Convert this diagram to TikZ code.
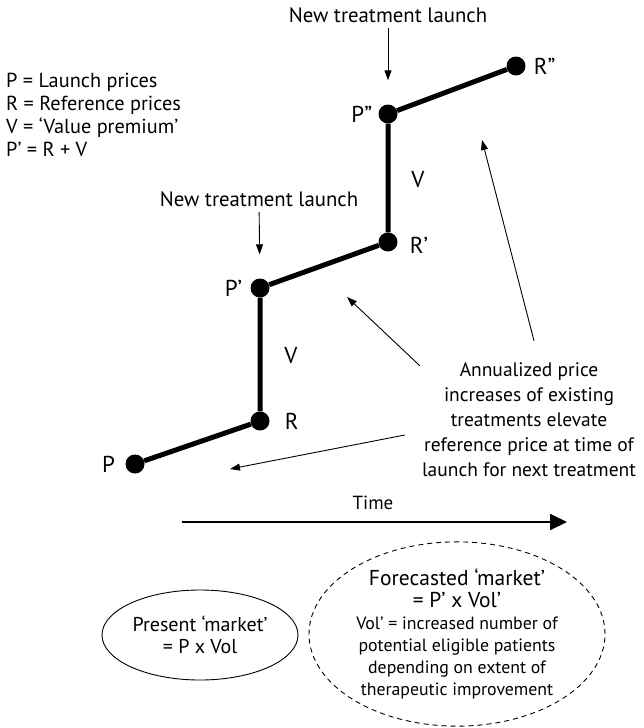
\documentclass[tikz,border=0pt]{standalone}
\usepackage{fontspec}
\setmainfont{PT Sans}
\usepackage{tikz}
\usetikzlibrary{positioning}
\usetikzlibrary{arrows.meta}
\usetikzlibrary{shapes.geometric}
\tikzstyle{line} = [draw, line width=0.9pt, -{Triangle[length=10pt,width=7pt]}]
\tikzstyle{timeline} = [draw, line width=1.8pt, -{Triangle[length=17pt,width=16pt]}]
\newcommand{\bigline}{\fontsize{21.5}{24}\selectfont}

\begin{document}
\begin{tikzpicture}[x=1pt, y=-1pt,
		every node/.style={font=\fontsize{19}{22}\selectfont},
		dot/.style={circle, fill=black, inner sep=0pt, minimum size=19pt},
		lbl/.style={font=\fontsize{23}{26}\selectfont, inner sep=0pt},
		price/.style={draw, line width=5pt},
		launch/.style={font=\fontsize{20.8}{24}\selectfont},
		market/.style={draw, ellipse, line width=0.9pt, align=center, inner sep=0pt}]
		\useasboundingbox (0,0) rectangle (643,728);
		%% Legend
		\node [align=left, anchor=north west, inner sep=0pt, font=\fontsize{20.3}{23}\selectfont] at (6,73) (legend) {P = Launch prices\\R = Reference prices\\V = ‘Value premium’\\P’ = R + V};
		%% Prices
		\node [dot] at (135,464) (pA) {};
		\node [dot] at (260,421) (rA) {};
		\node [dot] at (260,288) (pB) {};
		\node [dot] at (388,242) (rB) {};
		\node [dot] at (388,114) (pC) {};
		\node [dot] at (516,66) (rC) {};
		\node [lbl, left=10pt of pA] (pAl) {P};
		\node [lbl, right=15pt of rA] (rAl) {R};
		\node [lbl, left=8pt of pB] (pBl) {P’};
		\node [lbl, right=12pt of rB, yshift=-3pt] (rBl) {R’};
		\node [lbl, left=6pt of pC] (pCl) {P”};
		\node [lbl, right=8pt of rC] (rCl) {R”};
		\node [lbl] at (291,356) (vA) {V};
		\node [lbl] at (418,180) (vB) {V};
		\path [price] (pA) -- (rA) -- (pB) -- (rB) -- (pC) -- (rC);
		%% Launches
		\node [launch] at (259,199) (launchA) {New treatment launch};
		\node [launch] at (388,15) (launchB) {New treatment launch};
		\path [line, shorten <=2pt, shorten >=24pt] (launchA) -- (pB);
		\path [line, shorten <=2pt, shorten >=24pt] (launchB) -- (pC);
		%% Annotation
		\node [align=center, inner sep=0pt, font=\fontsize{19.5}{25}\selectfont] at (529,420) (ann) {Annualized price\\increases of existing\\treatments elevate\\reference price at time of\\launch for next treatment};
		\coordinate (tipA) at (230,469);
		\coordinate (tipB) at (347,297);
		\coordinate (tipC) at (482,140);
		\path [line] ([xshift=5pt,yshift=22pt]ann.north) -- (tipC);
		\path [line] ([xshift=-2pt,yshift=-3pt]ann.north west) -- (tipB);
		\path [line] ([xshift=-17pt,yshift=-15pt]ann.west) -- (tipA);
		%% Time
		\node at (373,503) (time) {Time};
		\coordinate (t0) at (182,522);
		\coordinate (t1) at (567,522);
		\path [timeline] (t0) -- (t1);
		%% Markets
		\node [market, minimum width=196pt, minimum height=90pt, font=\fontsize{20}{22}\selectfont] at (200,635) (present) {Present ‘market’\\= P x Vol};
		\node [market, dashed, dash pattern=on 5pt off 4pt, minimum width=296pt, minimum height=182pt, font=\fontsize{17.8}{22}\selectfont] at (457,634) (forecast) {\bigline Forecasted ‘market’\\\bigline = P’ x Vol’\\Vol’ = increased number of\\potential eligible patients\\depending on extent of\\therapeutic improvement};
\end{tikzpicture}
\end{document}
